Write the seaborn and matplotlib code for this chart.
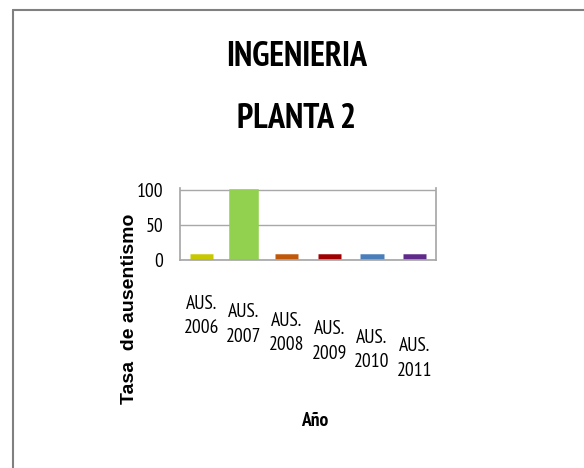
import matplotlib
matplotlib.use("Agg")
import matplotlib.pyplot as plt
import matplotlib.transforms as mtransforms
import seaborn as sns
import pandas as pd

categories = ["AUS.\n2006", "AUS.\n2007", "AUS.\n2008", "AUS.\n2009", "AUS.\n2010", "AUS.\n2011"]
values = [0, 97, 0, 0, 0, 0]
colors = ["#c8c800", "#92d050", "#c0580a", "#a00000", "#4a7ebb", "#5f2a8a"]
yticks = [0, 50, 100]
title_lines = ["INGENIERIA", "PLANTA 2"]
ylabel = "Tasa  de ausentismo"
xlabel = "Año"

sns.set_theme(style="white")
NARROW = ["PT Sans Narrow", "Carlito", "DejaVu Sans"]
plt.rcParams["font.family"] = NARROW
plt.rcParams["text.color"] = "black"

df = pd.DataFrame({"cat": categories, "val": values})

W, H = 584, 468
fig = plt.figure(figsize=(W / 100, H / 100), dpi=100)
ax_left, ax_right = 180, 436
ax_bottom, ax_top = 260, 188
ax = fig.add_axes([ax_left / W, 1 - ax_bottom / H, (ax_right - ax_left) / W, (ax_bottom - ax_top) / H])
sns.barplot(data=df, x="cat", y="val", hue="cat", palette=colors, legend=False,
            width=0.55, ax=ax, saturation=1)
for p, c in zip(ax.patches, colors):
    p.set_edgecolor(c)
    p.set_linewidth(4 if p.get_height() > 5 else 9)
ax.set_ylim(0, 103)
ax.set_yticks(yticks)
ax.set_yticklabels([str(t) for t in yticks], fontsize=14, color="black")
ax.yaxis.grid(True, color="#a8a8a8", linewidth=1)
ax.set_axisbelow(True)
ax.spines["top"].set_visible(False)
for s in ["left", "bottom", "right"]:
    ax.spines[s].set_color("#a8a8a8")
ax.tick_params(axis="x", labelsize=14, length=0, pad=25, colors="black")
ax.tick_params(axis="y", length=0, pad=12)
ax.set_xlabel("")
ax.set_ylabel("")

# staggered labels mimicking the perspective of the original
for i, lab in enumerate(ax.get_xticklabels()):
    lab.set_linespacing(1.45)
    lab.set_transform(lab.get_transform() + mtransforms.ScaledTranslation(0, -i * 0.085, fig.dpi_scale_trans))

fig.text(297 / W, 1 - 57 / H, title_lines[0], ha="center", va="center", fontsize=24.5, fontweight="bold")
fig.text(297 / W, 1 - 119 / H, title_lines[1], ha="center", va="center", fontsize=24.5, fontweight="bold")
fig.text(130 / W, 1 - 309 / H, ylabel, rotation=90, ha="center", va="center", fontsize=14,
         fontweight="bold", family=["Liberation Sans", "DejaVu Sans"])
fig.text(315 / W, 1 - 421 / H, xlabel, ha="center", va="center", fontsize=14, fontweight="bold")

# figure border (top and left, as in the reference)
border_kw = dict(color="#808080", linewidth=1.5, transform=fig.transFigure)
fig.add_artist(plt.Line2D([12.5 / W, 1.0], [1 - 9.5 / H, 1 - 9.5 / H], **border_kw))
fig.add_artist(plt.Line2D([12.5 / W, 12.5 / W], [0.0, 1 - 9.5 / H], **border_kw))

fig.savefig("out.png", dpi=100)
